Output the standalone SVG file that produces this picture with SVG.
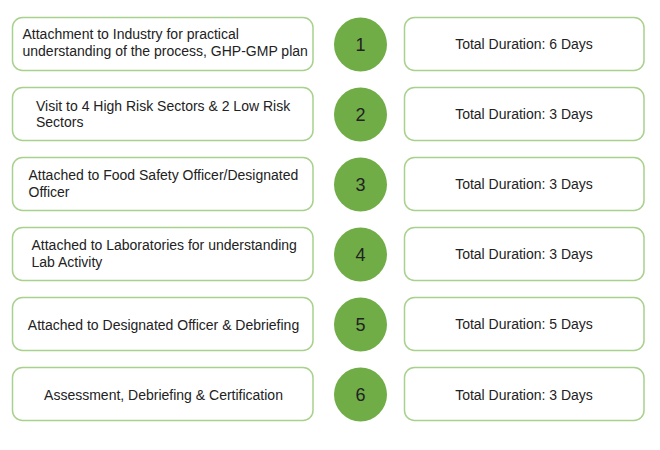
<svg xmlns="http://www.w3.org/2000/svg" width="660" height="450" viewBox="0 0 660 450">
<style>
.box{fill:#ffffff;stroke:#a9d18e;stroke-width:1.5}
.num{fill:#70ad47}
.t{font-family:"Liberation Sans",Arial,sans-serif;font-size:14px;fill:#222222}
.n{font-family:"Liberation Sans",Arial,sans-serif;font-size:18px;fill:#222222;text-anchor:middle}
.c{text-anchor:middle}
</style>
<rect width="660" height="450" fill="#ffffff"/>
<g id="connectors"></g>
<g id="step1">
<rect class="box" x="12.5" y="17.5" width="300.5" height="53" rx="10"/>
<text class="t" x="22.5" y="39">Attachment to Industry for practical</text>
<text class="t" x="22.5" y="56">understanding of the process, GHP-GMP plan</text>
<ellipse class="num" cx="360.5" cy="44.5" rx="26.5" ry="27"/>
<text class="n" x="360.5" y="51">1</text>
<rect class="box" x="404.5" y="17.5" width="239.5" height="53" rx="10"/>
<text class="t c" x="524" y="49">Total Duration: 6 Days</text>
</g>
<g id="step2">
<rect class="box" x="12.5" y="87.5" width="300.5" height="53" rx="10"/>
<text class="t" x="36" y="111">Visit to 4 High Risk Sectors &amp; 2 Low Risk</text>
<text class="t" x="36" y="127">Sectors</text>
<ellipse class="num" cx="360.5" cy="114.5" rx="26.5" ry="27"/>
<text class="n" x="360.5" y="121">2</text>
<rect class="box" x="404.5" y="87.5" width="239.5" height="53" rx="10"/>
<text class="t c" x="524" y="119">Total Duration: 3 Days</text>
</g>
<g id="step3">
<rect class="box" x="12.5" y="157.5" width="300.5" height="53" rx="10"/>
<text class="t" x="28.5" y="180">Attached to Food Safety Officer/Designated</text>
<text class="t" x="28.5" y="197">Officer</text>
<ellipse class="num" cx="360.5" cy="184.5" rx="26.5" ry="27"/>
<text class="n" x="360.5" y="191">3</text>
<rect class="box" x="404.5" y="157.5" width="239.5" height="53" rx="10"/>
<text class="t c" x="524" y="189">Total Duration: 3 Days</text>
</g>
<g id="step4">
<rect class="box" x="12.5" y="227.5" width="300.5" height="53" rx="10"/>
<text class="t" x="31.5" y="250">Attached to Laboratories for understanding</text>
<text class="t" x="31.5" y="267">Lab Activity</text>
<ellipse class="num" cx="360.5" cy="254.5" rx="26.5" ry="27"/>
<text class="n" x="360.5" y="261">4</text>
<rect class="box" x="404.5" y="227.5" width="239.5" height="53" rx="10"/>
<text class="t c" x="524" y="259">Total Duration: 3 Days</text>
</g>
<g id="step5">
<rect class="box" x="12.5" y="297.5" width="300.5" height="53" rx="10"/>
<text class="t c" x="163.5" y="329.5">Attached to Designated Officer &amp; Debriefing</text>
<ellipse class="num" cx="360.5" cy="324.5" rx="26.5" ry="27"/>
<text class="n" x="360.5" y="331">5</text>
<rect class="box" x="404.5" y="297.5" width="239.5" height="53" rx="10"/>
<text class="t c" x="524" y="329">Total Duration: 5 Days</text>
</g>
<g id="step6">
<rect class="box" x="12.5" y="367.5" width="300.5" height="53" rx="10"/>
<text class="t c" x="163.5" y="400">Assessment, Debriefing &amp; Certification</text>
<ellipse class="num" cx="360.5" cy="394.5" rx="26.5" ry="27"/>
<text class="n" x="360.5" y="401">6</text>
<rect class="box" x="404.5" y="367.5" width="239.5" height="53" rx="10"/>
<text class="t c" x="524" y="400">Total Duration: 3 Days</text>
</g>
</svg>
